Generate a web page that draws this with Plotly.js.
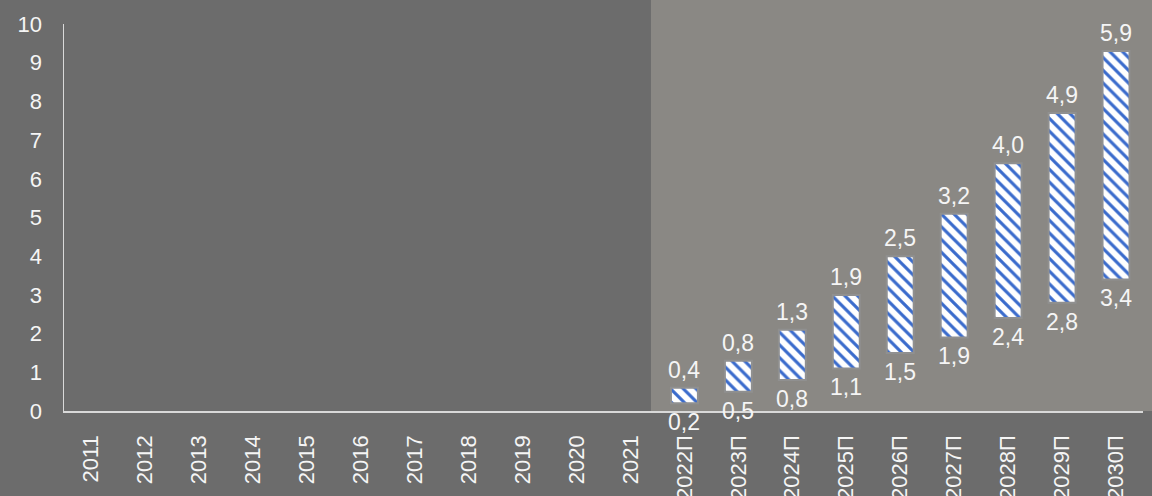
<!DOCTYPE html>
<html>
<head>
<meta charset="utf-8">
<script src="https://cdn.plot.ly/plotly-3.0.1.min.js"></script>
<style>
  html, body { margin: 0; padding: 0; background: #6c6c6c; }
  #chart { width: 1152px; height: 496px; }
</style>
</head>
<body>
<div id="chart"></div>
<script>
// ---- data ----
const years = ['2011','2012','2013','2014','2015','2016','2017','2018','2019','2020','2021',
               '2022П','2023П','2024П','2025П','2026П','2027П','2028П','2029П','2030П'];
const lowValues = [null,null,null,null,null,null,null,null,null,null,null,
                   0.2,0.5,0.8,1.1,1.5,1.9,2.4,2.8,3.4];
const spanValues = [null,null,null,null,null,null,null,null,null,null,null,
                    0.4,0.8,1.3,1.9,2.5,3.2,4.0,4.9,5.9];
const yTicks = [0,1,2,3,4,5,6,7,8,9,10];

const fmt = v => v.toFixed(1).replace('.', ',');
const FONT = 'Liberation Sans, Arial, sans-serif';

const trace = {
  type: 'bar',
  x: years,
  y: spanValues,
  base: lowValues,
  marker: {
    color: '#ffffff',
    line: { color: '#909090', width: 2 },
    pattern: { shape: '\\', fgcolor: '#3a6bcc', fgopacity: 1, bgcolor: '#ffffff', size: 9, solidity: 0.35, fillmode: 'replace' }
  },
  hoverinfo: 'skip'
};

const annotations = [];
years.forEach((c, i) => {
  if (lowValues[i] == null) return;
  annotations.push({
    x: c, y: lowValues[i] + spanValues[i], xref: 'x', yref: 'y',
    text: fmt(spanValues[i]), showarrow: false, yanchor: 'bottom', yshift: 3,
    font: { family: FONT, size: 23, color: '#f5f5f5' }
  });
  annotations.push({
    x: c, y: lowValues[i], xref: 'x', yref: 'y',
    text: fmt(lowValues[i]), showarrow: false, yanchor: 'top', yshift: -4,
    font: { family: FONT, size: 23, color: '#f5f5f5' }
  });
});

const layout = {
  width: 1152, height: 496,
  margin: { l: 64, r: 9, t: 24, b: 85 },
  paper_bgcolor: '#6c6c6c',
  plot_bgcolor: 'rgba(0,0,0,0)',
  showlegend: false,
  bargap: 0.5,
  font: { family: FONT, color: '#f5f5f5', size: 22 },
  xaxis: {
    type: 'category',
    tickangle: -90,
    showline: true, linecolor: '#d9d9d9', linewidth: 1.5,
    showgrid: false, zeroline: false,
    ticks: '', ticklabelstandoff: 14,
    tickfont: { family: FONT, size: 22, color: '#f5f5f5' },
    fixedrange: true
  },
  yaxis: {
    range: [0, 10],
    tickvals: yTicks,
    ticktext: yTicks.map(String),
    showline: true, linecolor: '#d9d9d9', linewidth: 1.5,
    showgrid: false, zeroline: false,
    ticks: '', ticklabelstandoff: 16,
    tickfont: { family: FONT, size: 22, color: '#f5f5f5' },
    fixedrange: true
  },
  shapes: [{
    type: 'rect', xref: 'paper', yref: 'paper', layer: 'below',
    x0: 0.544, x1: 1.01, y0: 0, y1: 1.07,
    fillcolor: '#8a8884', line: { width: 0 }
  }],
  annotations: annotations
};

Plotly.newPlot('chart', [trace], layout, { displayModeBar: false, staticPlot: true });
</script>
</body>
</html>
